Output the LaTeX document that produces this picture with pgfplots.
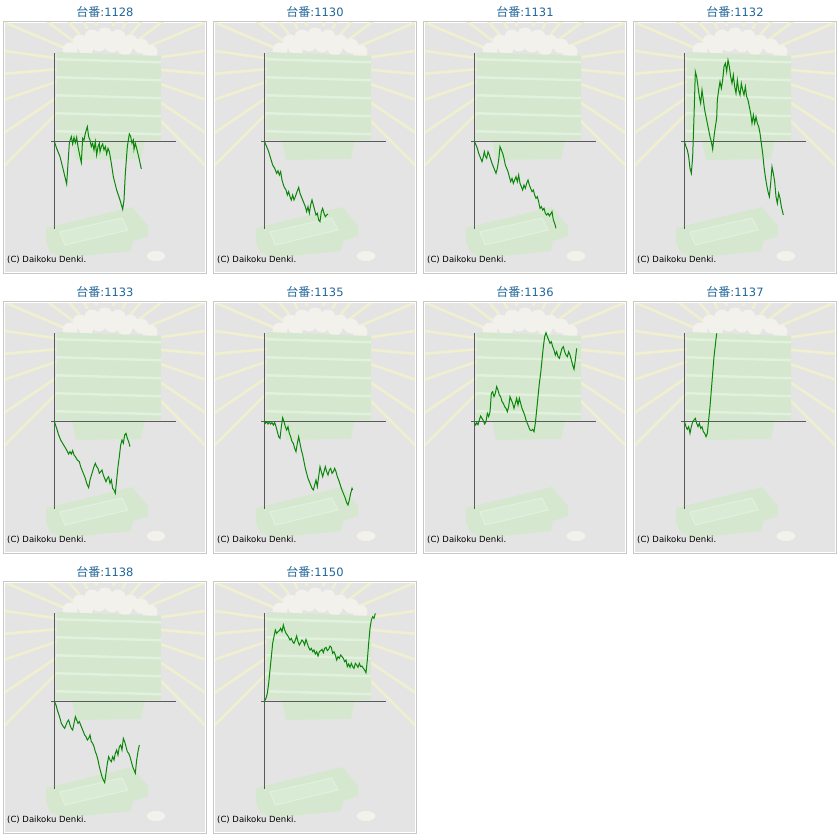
\documentclass[border=0pt]{standalone}
\usepackage{pgfplots}
\pgfplotsset{compat=1.18}
\usepackage{fontspec}
\setmainfont{DejaVu Sans}
\newfontfamily\cjk{Noto Sans CJK JP}
\definecolor{bggrey}{RGB}{228,228,228}
\definecolor{bordergrey}{RGB}{200,200,200}
\definecolor{raycol}{RGB}{240,240,208}
\definecolor{traycol}{RGB}{213,232,207}
\definecolor{traylight}{RGB}{226,240,222}
\definecolor{ballcol}{RGB}{242,241,236}
\definecolor{axgrey}{RGB}{90,90,90}
\definecolor{linegreen}{RGB}{10,135,10}
\definecolor{titleblue}{RGB}{34,102,153}

\newcommand{\panel}[4]{%
\begin{scope}[shift={(#1,-#2)},yscale=-1]
  \fill[white] (3,21) rectangle (207,274);
  \draw[bordergrey,line width=1pt] (3.5,21.5) rectangle (206.5,273.5);
  \fill[bggrey] (5,23) rectangle (205,272);
  \begin{scope}
    \clip (5,23) rectangle (205,272);
    \foreach \a in {135,146,161,175,188,203,217,230,244,258,282,296,310,323,337,352,5,19,34,45}
      \draw[raycol,line width=2.6pt] (105,65) +(\a:40) -- +(\a:200);
  \end{scope}
  \foreach \x/\y in {70/50,80/42,92/37,105/35,118/37,130/42,141/46,150/52,86/48,99/44,112/45,125/48}
    \fill[ballcol] (\x,\y) circle (7.5);
  \fill[traycol] (57,52) -- (161,56) -- (161,140) -- (56,140) -- cycle;
  \foreach \y in {58,76,94,112,130}
    \fill[traylight] (56,\y) -- (161,\y+3) -- (161,\y+5.5) -- (56,\y+2.5) -- cycle;
  \fill[traycol] (72,140) -- (145,140) -- (141,159) -- (76,160) -- cycle;
  \fill[traycol] (46,228) -- (132,207) -- (148,226) -- (148,236) -- (133,241) -- (131,251) -- (62,258) -- (50,252) -- (46,242) -- cycle;
  \draw[traylight,line width=1pt,fill=traycol!88!white] (60,232) -- (122,218) -- (128,230) -- (65,245) -- cycle;
  \fill[ballcol] (156,256) ellipse (10 and 5.5);
  \draw[black!12] (156,256) ellipse (10 and 5.5);
  \node[anchor=base west,inner sep=0pt,font=\fontsize{8.5}{10}\selectfont] at (7,262) {(C) Daikoku Denki.};
  \node[titleblue,inner sep=0pt] at (105,11.5) {{\cjk\fontsize{12}{14}\selectfont 台番}{\fontsize{11.5}{14}\selectfont :#3}};
\end{scope}
\begin{axis}[at={(#1pt+3pt,-#2pt-274pt)},anchor=south west,scale only axis,
  width=204pt,height=253pt,xmin=-154,xmax=458,ymin=-398,ymax=361,hide axis,clip=false]
  \draw[axgrey,line width=0.9pt] (axis cs:0,264) -- (axis cs:0,-263);
  \draw[axgrey,line width=0.9pt] (axis cs:-10,0) -- (axis cs:364,0);
  \addplot[linegreen,line width=1pt,mark=none] coordinates {#4};
\end{axis}
}

\begin{document}
\begin{tikzpicture}[x=1pt,y=1pt]
\path[use as bounding box] (0,0) rectangle (840,-840);

\panel{0}{0}{1128}{(0,0)(7,-21)(17,-46)(27,-86)(37,-128)(45,-6)(47,2)(51,14)(55,-8)(59,12)(63,-4)(67,12)(71,-16)(77,-46)(81,-64)(85,9)(89,4)(93,24)(99,44)(103,14)(107,4)(111,-16)(115,-6)(119,-26)(123,-1)(127,-41)(131,-16)(135,-6)(137,-31)(141,-16)(145,-8)(149,-26)(153,-16)(157,-38)(161,-21)(165,-31)(171,-66)(177,-106)(187,-146)(197,-176)(205,-204)(209,-176)(213,-96)(219,-16)(225,22)(229,14)(233,-6)(237,4)(239,-24)(243,-6)(247,-21)(253,-46)(261,-83)}

\panel{210}{0}{1130}{(0,0)(7,-16)(13,-31)(19,-51)(25,-71)(31,-81)(37,-96)(41,-88)(45,-101)(49,-91)(53,-116)(59,-136)(65,-146)(69,-161)(73,-151)(77,-166)(81,-176)(85,-161)(89,-176)(93,-166)(97,-154)(103,-138)(107,-156)(111,-166)(117,-181)(123,-196)(127,-211)(131,-196)(135,-216)(139,-191)(143,-176)(147,-191)(151,-206)(155,-221)(159,-216)(163,-236)(167,-241)(171,-211)(175,-201)(179,-216)(183,-226)(187,-221)(191,-218)}

\panel{420}{0}{1131}{(0,0)(5,-11)(9,-21)(13,-36)(17,-46)(23,-61)(27,-46)(30,-31)(33,-44)(37,-51)(41,-31)(45,-41)(49,-54)(53,-66)(57,-76)(61,-86)(65,-96)(69,-81)(73,-56)(77,-16)(81,-26)(85,-36)(89,-51)(93,-71)(97,-81)(101,-91)(105,-106)(109,-121)(113,-111)(117,-126)(121,-116)(125,-106)(129,-121)(133,-101)(137,-126)(141,-136)(145,-146)(149,-131)(153,-141)(157,-126)(161,-116)(165,-131)(169,-141)(173,-151)(177,-146)(181,-161)(185,-171)(189,-166)(193,-181)(197,-201)(201,-196)(205,-206)(209,-201)(213,-216)(217,-221)(221,-216)(225,-224)(229,-218)(233,-211)(237,-236)(241,-246)(245,-261)}

\panel{630}{0}{1132}{(0,0)(5,-16)(9,-26)(13,-46)(17,-81)(21,-96)(25,-46)(29,74)(33,209)(37,194)(41,164)(45,134)(49,114)(53,154)(57,124)(61,94)(65,74)(69,54)(73,34)(77,14)(81,-1)(85,-24)(89,14)(93,44)(97,69)(99,124)(103,154)(107,179)(111,159)(115,184)(119,224)(123,234)(127,209)(131,244)(135,224)(139,194)(143,174)(147,199)(151,164)(155,144)(159,184)(163,154)(167,139)(171,174)(175,154)(179,139)(183,164)(187,134)(191,124)(195,104)(199,84)(203,54)(207,79)(211,54)(215,74)(219,54)(223,44)(227,24)(231,-6)(235,-36)(239,-76)(243,-106)(247,-131)(251,-151)(255,-166)(259,-126)(263,-76)(267,-96)(271,-121)(275,-166)(279,-186)(283,-156)(287,-171)(291,-196)(297,-221)}

\panel{0}{280}{1133}{(0,0)(7,-21)(13,-41)(19,-56)(25,-66)(31,-76)(37,-86)(43,-98)(47,-91)(51,-98)(55,-88)(59,-101)(63,-106)(69,-116)(75,-121)(79,-136)(85,-151)(89,-161)(93,-171)(97,-186)(103,-199)(107,-176)(113,-156)(119,-136)(123,-126)(127,-136)(131,-141)(135,-156)(139,-151)(143,-146)(147,-161)(151,-171)(155,-181)(159,-171)(163,-166)(167,-186)(171,-176)(175,-201)(179,-206)(183,-216)(187,-176)(191,-136)(195,-106)(199,-71)(203,-56)(207,-66)(211,-41)(215,-36)(219,-51)(223,-61)(227,-76)}

\panel{210}{280}{1135}{(0,0)(3,-6)(7,-1)(11,-8)(15,-2)(19,-8)(23,-4)(27,-11)(31,-3)(35,-16)(39,-31)(43,-46)(47,-51)(51,-16)(55,11)(59,-1)(63,-16)(67,-26)(71,-16)(75,-36)(79,-46)(83,-61)(87,-66)(91,-81)(95,-91)(99,-66)(103,-46)(107,-66)(111,-86)(115,-101)(119,-121)(123,-141)(127,-156)(131,-171)(135,-181)(139,-191)(143,-201)(147,-206)(151,-191)(155,-176)(159,-196)(163,-166)(167,-136)(171,-151)(175,-166)(179,-151)(183,-136)(187,-151)(191,-161)(195,-146)(199,-141)(203,-156)(207,-151)(211,-141)(215,-151)(219,-166)(223,-176)(227,-188)(231,-201)(235,-211)(239,-221)(243,-231)(247,-244)(251,-251)(255,-236)(259,-216)(263,-201)(265,-206)}

\panel{420}{280}{1136}{(0,-4)(4,-11)(7,-4)(11,-10)(15,4)(19,16)(23,9)(27,2)(31,-8)(35,-1)(39,24)(43,14)(47,29)(49,54)(51,84)(55,89)(59,74)(63,84)(67,104)(71,94)(75,79)(79,74)(83,59)(87,54)(91,44)(95,39)(99,29)(103,44)(107,74)(111,64)(115,54)(119,39)(123,54)(127,69)(131,49)(135,69)(139,54)(143,39)(147,29)(151,19)(155,4)(159,-6)(163,-16)(167,-26)(171,-28)(175,-24)(179,-31)(183,-6)(187,34)(191,74)(195,114)(199,144)(203,184)(207,224)(211,254)(215,266)(219,254)(223,244)(227,234)(231,239)(235,224)(239,214)(243,199)(247,209)(251,194)(255,189)(259,204)(263,219)(267,224)(271,209)(275,199)(279,194)(283,209)(287,199)(291,184)(295,169)(299,156)(303,184)(307,219)}

\panel{630}{280}{1137}{(0,0)(5,-16)(9,-24)(13,-16)(17,-36)(21,-16)(25,-1)(29,4)(33,9)(37,-6)(41,-16)(45,-6)(49,-21)(53,-16)(57,-31)(61,-36)(65,-46)(69,-36)(73,4)(77,44)(81,94)(85,144)(89,194)(93,229)(97,264)}

\panel{0}{560}{1138}{(0,0)(5,-11)(9,-26)(13,-38)(17,-51)(21,-66)(27,-76)(31,-81)(35,-71)(39,-61)(43,-56)(47,-71)(51,-81)(55,-86)(59,-66)(63,-46)(67,-56)(71,-66)(75,-61)(79,-71)(83,-81)(87,-91)(91,-101)(95,-106)(99,-116)(103,-111)(107,-101)(111,-121)(115,-126)(119,-136)(123,-151)(127,-161)(131,-176)(135,-196)(139,-211)(143,-226)(147,-236)(151,-244)(155,-216)(159,-186)(163,-166)(167,-176)(171,-181)(175,-166)(179,-176)(183,-156)(187,-146)(191,-161)(195,-136)(199,-131)(203,-146)(207,-111)(211,-121)(215,-136)(219,-151)(223,-156)(227,-166)(231,-181)(235,-196)(239,-206)(243,-216)(247,-176)(251,-151)(255,-131)}

\panel{210}{560}{1150}{(0,0)(5,9)(9,24)(13,54)(17,94)(21,134)(25,174)(29,194)(33,214)(37,204)(41,209)(45,212)(49,219)(53,209)(57,229)(61,214)(65,204)(69,199)(73,192)(77,184)(81,189)(85,179)(89,174)(93,184)(97,196)(101,179)(105,169)(109,176)(113,184)(117,179)(121,169)(125,186)(129,174)(133,162)(137,154)(141,159)(145,149)(149,154)(153,142)(157,149)(161,136)(165,149)(169,152)(173,156)(177,146)(181,159)(185,162)(189,152)(193,156)(197,166)(201,162)(205,144)(209,149)(213,139)(217,124)(221,134)(225,129)(229,139)(233,134)(237,129)(241,119)(245,124)(249,104)(253,112)(257,102)(261,114)(265,104)(269,99)(273,114)(277,109)(281,102)(285,114)(289,104)(293,106)(297,99)(301,94)(305,86)(309,124)(313,174)(317,219)(321,244)(325,254)(329,249)(333,264)}

\end{tikzpicture}
\end{document}
